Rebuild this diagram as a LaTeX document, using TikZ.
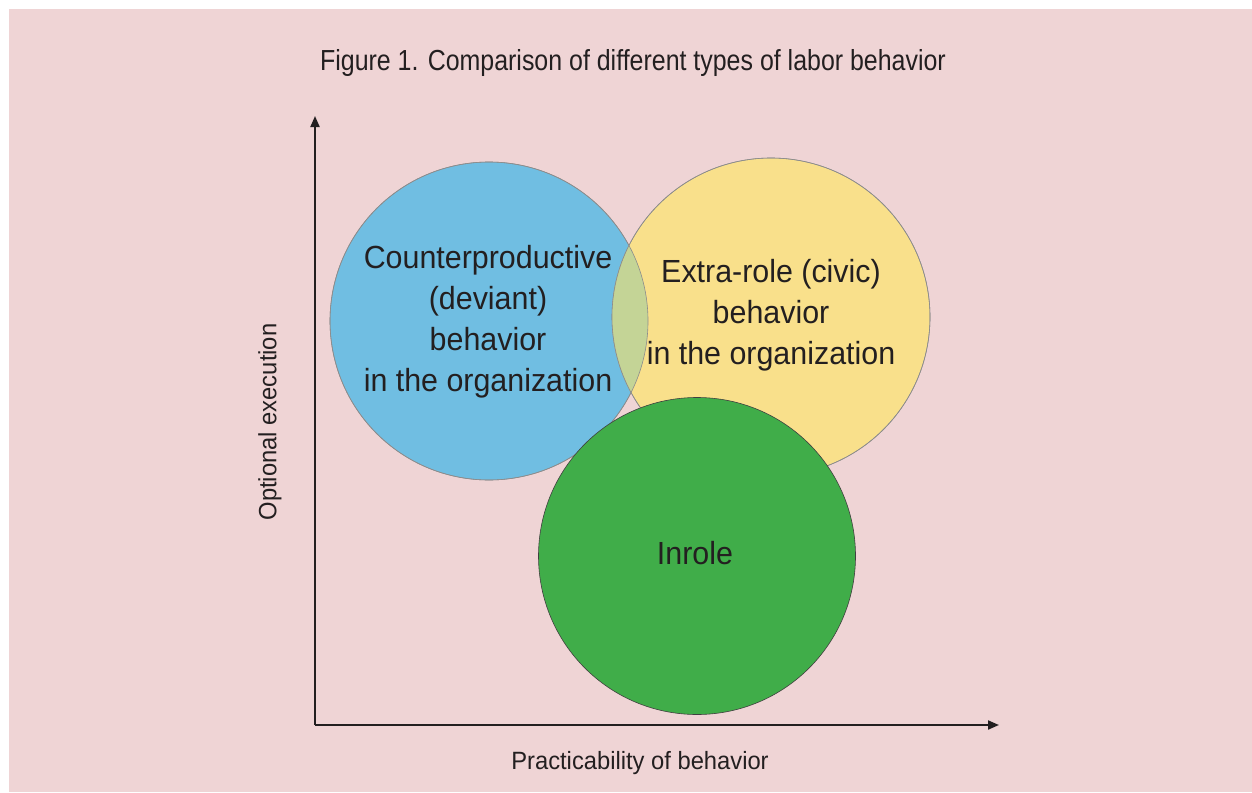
\documentclass[tikz,border=0pt]{standalone}
\usepackage{fontspec}
\setmainfont[FakeStretch=0.86]{Liberation Sans}
\newfontfamily\widesans[FakeStretch=0.95]{Liberation Sans}
\usetikzlibrary{arrows.meta}
\definecolor{bgpink}{RGB}{239,212,213}
\definecolor{cblue}{RGB}{112,190,226}
\definecolor{cyellow}{RGB}{249,224,139}
\definecolor{cgreen}{RGB}{64,173,73}
\definecolor{clens}{RGB}{196,212,150}
\definecolor{ink}{RGB}{35,31,32}
\begin{document}
\begin{tikzpicture}[x=1pt, y=-1pt, text=ink,
  ball/.style={circle, draw=black!45, line width=0.6pt, minimum size=318pt, inner sep=0pt, align=center},
  balltext/.style={align=center, font=\widesans\fontsize{32}{41}\selectfont},
  axislabel/.style={font=\widesans\fontsize{25}{30}\selectfont},
  axis/.style={draw=ink, line width=2pt, -{Triangle[length=11pt,width=9pt]}}]
\useasboundingbox[fill=white] (0,0) rectangle (1252,792);
\fill[bgpink] (9,9) rectangle (1252,792);
\node[font=\fontsize{29}{35}\selectfont] (t) at (633,63) {Figure 1. Comparison of different types of labor behavior};
\coordinate (o) at (315,725);
\coordinate (ytop) at (315,116);
\coordinate (xend) at (999,725);
\draw[axis] (o) -- (ytop);
\draw[axis] (o) -- (xend);
\node[axislabel] (xl) at (640,763) {Practicability of behavior};
\node[axislabel, rotate=90] (yl) at (270,422) {Optional execution};
\node[ball, fill=cblue] (b) at (489,321) {};
\node[ball, fill=cyellow] (y) at (771,317) {};
\begin{scope}
\clip (489,321) circle (159);
\fill[clens] (771,317) circle (159);
\end{scope}
\draw[black!45, line width=0.6pt] (489,321) circle (159);
\draw[black!45, line width=0.6pt] (771,317) circle (159);
\node[ball, draw=black!75, fill=cgreen, minimum size=317pt] (g) at (697,556) {};
\node[balltext] (bt) at (488,322) {Counterproductive\\(deviant)\\behavior\\in the organization};
\node[balltext] (yt) at (771,315) {Extra-role (civic)\\behavior\\in the organization};
\node[balltext] (gt) at (695,553) {Inrole};
\end{tikzpicture}
\end{document}
